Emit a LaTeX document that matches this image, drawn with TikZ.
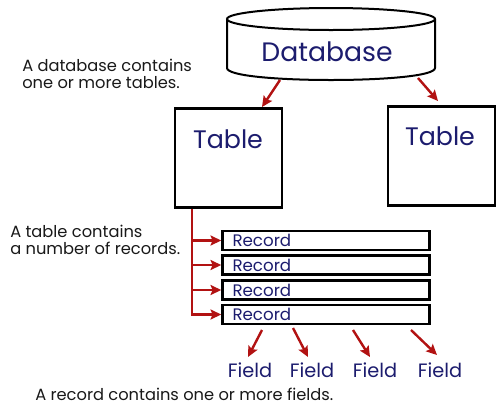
\documentclass[tikz,border=0pt]{standalone}
\usepackage{fontspec}
\setmainfont{Poppins}
\usetikzlibrary{arrows.meta}
\definecolor{navy}{RGB}{28,28,110}
\definecolor{arrowred}{RGB}{178,18,18}
\definecolor{bodytext}{RGB}{25,25,25}
\newcommand{\pxu}{0.75pt}
\begin{document}
\begin{tikzpicture}[x=0.75pt,y=-0.75pt,
  tablebox/.style={draw=black,line width=1.9pt,minimum width=107*\pxu,minimum height=99*\pxu,inner sep=0pt},
  recbox/.style={draw=black,line width=1.9pt,minimum width=207*\pxu,minimum height=19*\pxu,inner sep=0pt},
  bigtext/.style={text=navy,inner sep=0pt,font=\fontsize{19}{22}\selectfont},
  rectext/.style={text=navy,inner sep=0pt,font=\fontsize{12.5}{14}\selectfont},
  fieldtext/.style={text=navy,inner sep=0pt,font=\fontsize{14.5}{16}\selectfont},
  note/.style={text=bodytext,inner sep=0pt,align=left,font=\fontsize{12.2}{12.2}\selectfont},
  redline/.style={draw=arrowred,line width=1.8pt,line join=miter},
  redarrow/.style={redline,-{Stealth[length=8pt,width=7.5pt,inset=1.5pt]}}
]
\useasboundingbox (0,0) rectangle (500,419);
\fill[white] (0,0) rectangle (500,419);
% database cylinder
\draw[line width=1.5pt,fill=white] (227,19) -- (227,68) .. controls (227,84) and (435,84) .. (435,68) -- (435,19);
\draw[line width=1.5pt] (331,19) ellipse [x radius=104, y radius=11];
\node[bigtext,font=\fontsize{20}{22}\selectfont] (db) at (327,52) {Database};
% tables
\node[tablebox] (t1) at (228.5,158) {};
\node[tablebox] (t2) at (441.5,156) {};
\node[bigtext] (t1t) at (228,139) {Table};
\node[bigtext] (t2t) at (440,136) {Table};
% arrows database -> tables
\coordinate (d1) at (280,80);
\coordinate (d2) at (418,78);
\coordinate (e1) at (262,107);
\coordinate (e2) at (438,101);
\draw[redarrow] (d1) -- (e1);
\draw[redarrow] (d2) -- (e2);
% records
\node[recbox] (r1) at (326,240.5) {};
\node[recbox] (r2) at (326,265) {};
\node[recbox] (r3) at (326,290) {};
\node[recbox] (r4) at (326,314.5) {};
\node[rectext,anchor=west] (r1t) at ([xshift=11*\pxu]r1.west) {Record};
\node[rectext,anchor=west] (r2t) at ([xshift=11*\pxu]r2.west) {Record};
\node[rectext,anchor=west] (r3t) at ([xshift=11*\pxu]r3.west) {Record};
\node[rectext,anchor=west] (r4t) at ([xshift=11*\pxu]r4.west) {Record};
\coordinate (spine) at (192,0);
\draw[redarrow] (spine |- t1.south) -- (spine |- r4.west) -- (r4.west);
\draw[redarrow] (spine |- r1.west) -- (r1.west);
\draw[redarrow] (spine |- r2.west) -- (r2.west);
\draw[redarrow] (spine |- r3.west) -- (r3.west);
% fields
\node[fieldtext,anchor=base] (f1) at (250,377) {Field};
\node[fieldtext,anchor=base] (f2) at (312,377) {Field};
\node[fieldtext,anchor=base] (f3) at (375,377) {Field};
\node[fieldtext,anchor=base] (f4) at (440,377) {Field};
\coordinate (s1) at (262,330);
\coordinate (s2) at (293,328);
\coordinate (s3) at (353,330);
\coordinate (s4) at (411,330);
\coordinate (g1) at (248,357);
\coordinate (g2) at (308,357);
\coordinate (g3) at (370,357);
\coordinate (g4) at (437,355);
\draw[redarrow] (s1) -- (g1);
\draw[redarrow] (s2) -- (g2);
\draw[redarrow] (s3) -- (g3);
\draw[redarrow] (s4) -- (g4);
% notes (base anchor = baseline of the last line)
\node[note,anchor=base west] (n1) at (22,88) {A database contains\\one or more tables.};
\node[note,anchor=base west] (n2) at (10,254) {A table contains\\a number of records.};
\node[note,anchor=base west] (n3) at (35,400) {A record contains one or more fields.};
\end{tikzpicture}
\end{document}
